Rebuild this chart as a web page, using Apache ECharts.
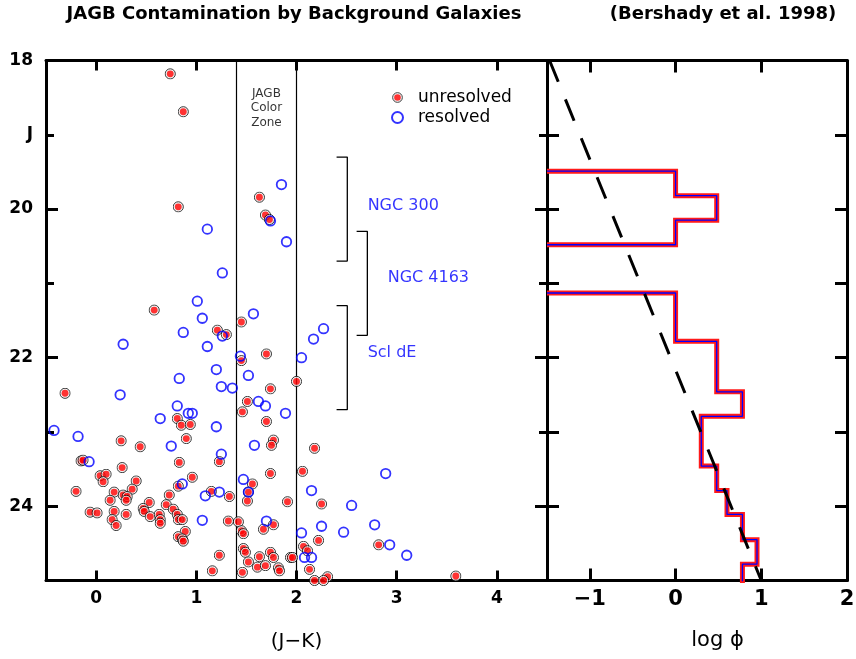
<!DOCTYPE html>
<html><head><meta charset="utf-8">
<script src="https://cdn.jsdelivr.net/npm/echarts@6/dist/echarts.min.js"></script>
<style>html,body{margin:0;padding:0;background:#fff}#c{width:856px;height:659px}</style>
</head><body><div id="c"></div>
<script>
// ---- data ----
const unresX = [0.74,0.87,0.82,1.63,1.69,1.73,
  0.58,1.45,1.21,1.30,1.45,1.70,2.00,1.74,-0.31,1.51,
  1.46,0.81,0.85,0.94,1.70,0.25,0.44,0.90,1.77,1.75,1.23,-0.15,-0.13,0.83,0.26,0.96,0.04,0.10,0.07,1.74,1.56,0.82,0.40,
  -0.20,0.18,0.36,0.27,0.31,0.30,0.14,0.73,1.15,1.33,1.52,1.51,1.91,0.53,0.70,0.47,0.48,0.77,-0.06,0.01,0.18,0.30,0.16,0.20,
  0.54,0.63,0.64,0.64,0.81,0.82,0.86,1.32,1.42,1.45,1.47,1.77,1.67,0.89,0.82,0.86,0.87,1.47,1.49,1.23,1.63,1.74,1.77,
  1.52,1.61,1.69,1.82,1.83,1.94,1.96,1.16,1.46,
  2.18,2.06,2.25,2.22,2.82,2.07,2.11,2.13,2.31,2.18,2.27,3.59];
const unresJ = [18.18,18.69,19.97,19.84,20.08,20.14,
  21.36,21.52,21.63,21.69,22.04,21.95,22.32,22.42,22.48,22.59,
  22.73,22.82,22.91,22.90,22.86,23.12,23.20,23.09,23.11,23.18,23.40,23.39,23.38,23.41,23.48,23.61,23.59,23.57,23.67,23.56,23.70,23.73,23.66,
  23.80,23.81,23.77,23.85,23.87,23.92,23.92,23.85,23.80,23.87,23.81,23.93,23.94,23.95,23.98,24.03,24.07,24.04,24.08,24.09,24.07,24.11,24.18,24.26,
  24.14,24.11,24.18,24.23,24.11,24.18,24.18,24.20,24.21,24.33,24.37,24.25,24.31,24.34,24.41,24.44,24.47,24.57,24.62,24.66,24.68,24.62,24.69,
  24.75,24.82,24.80,24.83,24.87,24.69,24.69,24.87,24.89,
  23.22,23.53,23.97,24.46,24.52,24.54,24.60,24.85,24.95,25.0,25.0,24.94];
const resX = [1.11,1.85,1.74,1.90,1.26,1.01,1.06,1.57,1.26,0.87,0.27,1.11,1.44,2.05,2.27,2.17,
  1.20,0.83,1.52,1.25,1.36,0.24,1.62,1.69,0.81,1.89,0.92,0.96,0.64,-0.42,1.20,-0.18,0.75,1.58,1.25,-0.07,
  1.47,0.86,1.09,1.23,1.52,1.06,1.70,2.05,2.89,2.15,2.55,2.78,2.25,2.47,2.93,2.08,2.15,3.10];
const resJ = [20.27,19.67,20.16,20.44,20.86,21.24,21.47,21.41,21.71,21.66,21.82,21.85,21.98,22.00,21.61,21.75,
  22.16,22.28,22.24,22.39,22.41,22.50,22.59,22.65,22.65,22.75,22.75,22.75,22.82,22.98,22.93,23.06,23.19,23.18,23.30,23.40,
  23.64,23.70,23.86,23.81,23.81,24.19,24.20,24.36,23.56,23.79,23.99,24.25,24.27,24.35,24.52,24.69,24.69,24.66];
// histogram (right panel): bin edges in J and log phi per bin (null = empty bin)
const binEdges = [19.49,19.82,20.15,20.48,20.81,21.13,21.46,21.78,22.12,22.46,22.79,23.12,23.46,23.79,24.11,24.45,24.78,25.11];
const logPhi   = [0,0.48,0,null,null,0,0,0.48,0.48,0.78,0.30,0.30,0.48,0.60,0.78,0.95,0.78];
// Bershady et al. model line
const modelPhi = [-1.47, 1.0];
const modelJ   = [18, 25];
// JAGB colour zone edges
const zoneEdges = [1.4, 2.0];
// field brackets
const bracketTop = [19.3, 20.3, 21.3];
const bracketBottom = [20.7, 21.7, 22.7];
const bracketSpine = [2.507, 2.707, 2.507];
const fieldNames = ['NGC 300', 'NGC 4163', 'Scl dE'];
const fieldX = [2.71, 2.91, 2.71];
const fieldJ = [19.95, 20.93, 21.94];
// ticks
const colorTicks = [0, 1, 2, 3, 4];
const magMajor = [18, 20, 22, 24];
const magMinor = [19, 21, 23];
const magLabels = [18, 19, 20, 22, 24];
const phiTicks = [-1, 0, 1];
const phiLabels = [-1, 0, 1, 2];
const magTicksRight = [19, 20, 21, 22, 23, 24];

// ---- build chart ----
const PHI_MIN = -1.5;
const FONT = 'DejaVu Sans';
const redSym = 'image://data:image/svg+xml;charset=utf-8,' + encodeURIComponent(
  "<svg xmlns='http://www.w3.org/2000/svg' width='24' height='24' viewBox='0 0 24 24'>" +
  "<circle cx='12' cy='12' r='10.6' fill='#eeeeee' stroke='#000' stroke-width='2'/>" +
  "<circle cx='12' cy='12' r='7.2' fill='#ff0000'/></svg>");

const zip = (a, b) => a.map((v, i) => [v, b[i]]);

// histogram runs
const runs = [];
let cur = null;
for (let i = 0; i < logPhi.length; i++) {
  const v = logPhi[i];
  if (v === null) { if (cur) { cur.push([PHI_MIN, binEdges[i]]); runs.push(cur); cur = null; } continue; }
  if (!cur) cur = [[PHI_MIN, binEdges[i]]];
  cur.push([v, binEdges[i]], [v, binEdges[i + 1]]);
}
if (cur) runs.push(cur);

const series = [];
// zone lines + brackets
bracketTop.forEach((t, i) => {
  const s = bracketSpine[i], b = bracketBottom[i], tk = s - 0.107;
  series.push({
    type: 'line', xAxisIndex: 0, yAxisIndex: 0, silent: true, symbol: 'none', z: 3,
    data: [[tk, t], [s, t], [s, b], [tk, b]],
    lineStyle: { color: '#000', width: 1.3 },
    markLine: i === 0 ? {
      silent: true, symbol: 'none', label: { show: false },
      lineStyle: { color: '#000', width: 1.2, type: 'solid' },
      data: zoneEdges.map(x => ({ xAxis: x }))
    } : undefined
  });
});
// annotations
series.push({
  type: 'scatter', xAxisIndex: 0, yAxisIndex: 0, silent: true, symbolSize: 0, z: 4,
  data: fieldNames.map((n, i) => ({ name: n, value: [fieldX[i], fieldJ[i]] })),
  label: { show: true, position: 'right', distance: 0, formatter: '{b}', color: '#0000ff', fontFamily: FONT, fontSize: 16 }
});
series.push({
  type: 'scatter', xAxisIndex: 0, yAxisIndex: 0, silent: true, symbolSize: 0, z: 4,
  data: [{ name: 'JAGB\nColor\nZone', value: [1.7, 18.64] }],
  label: { show: true, position: 'inside', formatter: '{b}', color: '#000', fontFamily: FONT, fontSize: 12, lineHeight: 14.5, align: 'center' }
});
series.push({
  name: 'unresolved', type: 'scatter', xAxisIndex: 0, yAxisIndex: 0, z: 5,
  symbol: redSym, symbolSize: 11.5, data: zip(unresX, unresJ)
});
series.push({
  name: 'resolved', type: 'scatter', xAxisIndex: 0, yAxisIndex: 0, z: 6,
  symbol: 'circle', symbolSize: 9.5,
  itemStyle: { color: 'rgba(0,0,0,0)', borderColor: '#0000ff', borderWidth: 1.8 },
  data: zip(resX, resJ)
});
// histogram
runs.forEach(r => {
  series.push({ type: 'line', xAxisIndex: 2, yAxisIndex: 4, silent: true, symbol: 'none', z: 3,
    data: r, lineStyle: { color: '#ff1a1a', width: 5, join: 'miter' } });
  series.push({ type: 'line', xAxisIndex: 2, yAxisIndex: 4, silent: true, symbol: 'none', z: 4,
    data: r, lineStyle: { color: '#0000ff', width: 1.3 } });
});
series.push({ type: 'line', xAxisIndex: 2, yAxisIndex: 4, silent: true, symbol: 'none', z: 5,
  data: zip(modelPhi, modelJ), lineStyle: { color: '#000', width: 3, type: [23, 19] } });

const frame = { show: true, onZero: false, lineStyle: { color: '#000', width: 3 } };
const noFrame = { show: false, onZero: false };
const tickS = (vals, len) => ({ show: true, inside: true, length: len, customValues: vals, lineStyle: { color: '#000', width: 3 } });
const noLabel = { show: false };
const base = { type: 'value', splitLine: { show: false } };

const option = {
  backgroundColor: '#fff',
  animation: false,
  title: [
    { text: 'JAGB Contamination by Background Galaxies', left: 294, top: 5, textAlign: 'center', padding: 0,
      textStyle: { fontFamily: FONT, fontWeight: 'bold', fontSize: 18, color: '#000' } },
    { text: '(Bershady et al. 1998)', left: 723, top: 5, textAlign: 'center', padding: 0,
      textStyle: { fontFamily: FONT, fontWeight: 'bold', fontSize: 18, color: '#000' } }
  ],
  legend: {
    data: ['unresolved', 'resolved'], orient: 'vertical', left: 391, top: 89, padding: 0,
    itemWidth: 11, itemHeight: 11, itemGap: 3, selectedMode: false,
    textStyle: { fontFamily: FONT, fontSize: 17, color: '#000', padding: [0, 0, 0, 10] }
  },
  grid: [
    { left: 46, top: 60.5, width: 501, height: 520, containLabel: false, outerBoundsMode: 'none' },
    { left: 547, top: 60.5, width: 300, height: 520, containLabel: false, outerBoundsMode: 'none' }
  ],
  xAxis: [
    Object.assign({}, base, { gridIndex: 0, position: 'bottom', min: -0.5, max: 4.5, axisLine: frame,
      axisTick: tickS(colorTicks, 10),
      axisLabel: { customValues: colorTicks, margin: 10, fontFamily: FONT, fontWeight: 'bold', fontSize: 17, color: '#000' },
      name: '(J\u2212K)', nameLocation: 'middle', nameGap: 51,
      nameTextStyle: { fontFamily: FONT, fontSize: 20, color: '#000' } }),
    Object.assign({}, base, { gridIndex: 0, position: 'top', min: -0.5, max: 4.5, axisLine: frame,
      axisTick: tickS(colorTicks, 10), axisLabel: noLabel }),
    Object.assign({}, base, { gridIndex: 1, position: 'bottom', min: PHI_MIN, max: 2, axisLine: frame,
      axisTick: tickS(phiTicks, 12),
      axisLabel: { customValues: phiLabels, margin: 9, fontFamily: FONT, fontWeight: 'bold', fontSize: 21, color: '#000',
        formatter: v => String(v).replace('-', '\u2212') },
      name: 'log \u03d5', nameLocation: 'middle', nameGap: 50,
      nameTextStyle: { fontFamily: FONT, fontSize: 21, color: '#000', padding: [0, 0, 0, 41] } }),
    Object.assign({}, base, { gridIndex: 1, position: 'top', min: PHI_MIN, max: 2, axisLine: frame,
      axisTick: tickS(phiTicks, 12), axisLabel: noLabel })
  ],
  yAxis: [
    Object.assign({}, base, { gridIndex: 0, position: 'left', inverse: true, min: 18, max: 25, axisLine: frame,
      axisTick: tickS(magMajor, 12),
      axisLabel: { customValues: magLabels, margin: 13, fontFamily: FONT, fontWeight: 'bold', fontSize: 17, color: '#000',
        formatter: v => (v === 19 ? 'J' : String(v)) } }),
    Object.assign({}, base, { gridIndex: 0, position: 'left', inverse: true, min: 18, max: 25, axisLine: noFrame,
      axisTick: tickS(magMinor, 8), axisLabel: noLabel }),
    Object.assign({}, base, { gridIndex: 0, position: 'right', inverse: true, min: 18, max: 25, axisLine: frame,
      axisTick: tickS(magMajor, 12), axisLabel: noLabel }),
    Object.assign({}, base, { gridIndex: 0, position: 'right', inverse: true, min: 18, max: 25, axisLine: noFrame,
      axisTick: tickS(magMinor, 8), axisLabel: noLabel }),
    Object.assign({}, base, { gridIndex: 1, position: 'left', inverse: true, min: 18, max: 25, axisLine: frame,
      axisTick: tickS(magTicksRight, 12), axisLabel: noLabel }),
    Object.assign({}, base, { gridIndex: 1, position: 'right', inverse: true, min: 18, max: 25, axisLine: frame,
      axisTick: tickS(magTicksRight, 12), axisLabel: noLabel })
  ],
  series: series
};
const chart = echarts.init(document.getElementById('c'), null, { renderer: 'canvas' });
chart.setOption(option);
</script></body></html>
